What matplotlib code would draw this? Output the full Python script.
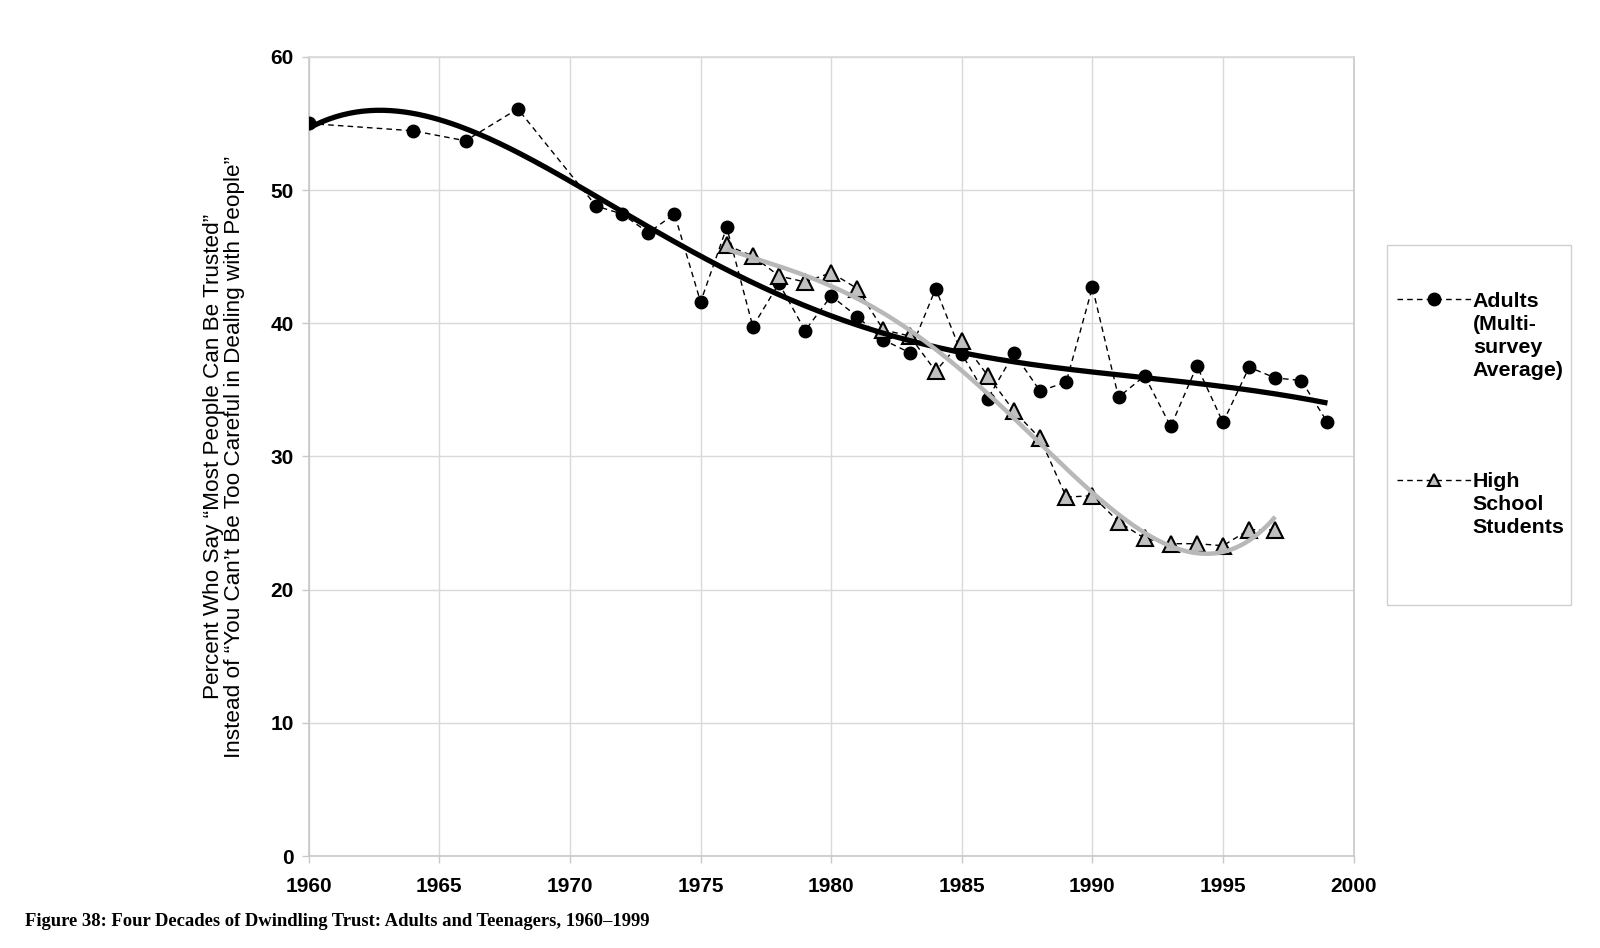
import numpy as np
import matplotlib.pyplot as plt
from matplotlib.patches import Rectangle

plt.rcParams['font.family'] = ['Liberation Sans', 'DejaVu Sans']

# Adults (multi-survey average)
adult_years = [1960, 1964, 1966, 1968, 1971, 1972, 1973, 1974, 1975, 1976,
               1977, 1978, 1979, 1980, 1981, 1982, 1983, 1984, 1985, 1986,
               1987, 1988, 1989, 1990, 1991, 1992, 1993, 1994, 1995, 1996,
               1997, 1998, 1999]
adult_vals = [55.0, 54.45, 53.7, 56.1, 48.8, 48.2, 46.8, 48.2, 41.6, 47.2,
              39.75, 43.0, 39.45, 42.05, 40.5, 38.75, 37.8, 42.6, 37.7, 34.35,
              37.75, 34.9, 35.6, 42.7, 34.45, 36.05, 32.25, 36.8, 32.55, 36.7,
              35.9, 35.7, 32.55]

# High school students
hs_years = list(range(1976, 1998))
hs_vals = [45.85, 45.05, 43.55, 43.1, 43.8, 42.6, 39.5, 39.05, 36.4, 38.7,
           36.05, 33.4, 31.35, 26.95, 27.05, 25.1, 23.85, 23.45, 23.45, 23.3,
           24.5, 24.5]

x_ticks = list(range(1960, 2001, 5))
y_ticks = list(range(0, 61, 10))

fig = plt.figure(figsize=(16, 9.48), dpi=100)
ax = fig.add_axes([0.193, 0.097, 0.653, 0.843])

ax.plot(adult_years, adult_vals, color='black', lw=1, ls=(0, (4, 3)),
        marker='o', ms=9, mfc='black', mec='black', zorder=3,
        label='Adults\n(Multi-\nsurvey\nAverage)')
ax.plot(hs_years, hs_vals, color='black', lw=1, ls=(0, (4, 3)),
        marker='^', ms=11, mfc='#c0c0c0', mec='black', mew=1.5, zorder=3,
        label='High\nSchool\nStudents')

# polynomial trendlines fitted to each series
xa = np.array(adult_years, dtype=float)
pa = np.polyfit(xa - 1980, adult_vals, 5)
xs = np.linspace(1960, 1999, 300)
ax.plot(xs, np.polyval(pa, xs - 1980), color='black', lw=3.8, zorder=4,
        solid_capstyle='butt')

xh = np.array(hs_years, dtype=float)
ph = np.polyfit(xh - 1986, hs_vals, 4)
xs2 = np.linspace(1976, 1997, 300)
ax.plot(xs2, np.polyval(ph, xs2 - 1986), color='#b8b8b8', lw=3.2, zorder=4,
        solid_capstyle='butt')

ax.set_xlim(1960, 2000)
ax.set_ylim(0, 60)
ax.set_xticks(x_ticks)
ax.set_yticks(y_ticks)
ax.grid(True, color='#d9d9d9', lw=1)
ax.set_axisbelow(True)
for s in ax.spines.values():
    s.set_color('#c8c8c8')
    s.set_linewidth(1.2)
ax.spines['top'].set_color('#d9d9d9')
ax.tick_params(axis='both', colors='#c8c8c8', length=5, width=1, labelsize=15,
               labelcolor='black')
ax.tick_params(axis='x', pad=10)
ax.tick_params(axis='y', pad=6)
for lab in ax.get_xticklabels() + ax.get_yticklabels():
    lab.set_fontweight('bold')

ax.set_ylabel('Percent Who Say \u201cMost People Can Be Trusted\u201d\n'
              'Instead of \u201cYou Can\u2019t Be Too Careful in Dealing with People\u201d',
              fontsize=16.2, family=['Liberation Sans'], linespacing=1.0)
ax.yaxis.set_label_coords(-0.061, 0.5)

# legend frame
fig.patches.append(Rectangle((1387 / 1600, 1 - 605 / 948), 184 / 1600, 360 / 948,
                             transform=fig.transFigure, fill=False,
                             edgecolor='#d0d0d0', lw=1))
leg = fig.legend(handles=ax.lines[:2], loc='upper left',
                 bbox_to_anchor=(1397 / 1600, 1 - 292 / 948),
                 frameon=False, handlelength=3.5, handletextpad=0.05,
                 labelspacing=4.32, borderpad=0, borderaxespad=0, numpoints=1,
                 prop={'weight': 'bold', 'size': 15.4})
for t in leg.get_texts():
    t.set_linespacing(1.26)
for col in leg._legend_handle_box.get_children():
    for item in col.get_children():
        item.align = 'top'
for h in leg.legend_handles:
    h.set_markersize(9)

fig.text(25 / 1600, 1 - 921 / 948,
         'Figure 38: Four Decades of Dwindling Trust: Adults and Teenagers, 1960\u20131999',
         family=['Liberation Serif', 'DejaVu Serif'], fontweight='bold',
         fontsize=13.4, va='center', ha='left')

fig.savefig('out.png', dpi=100)
